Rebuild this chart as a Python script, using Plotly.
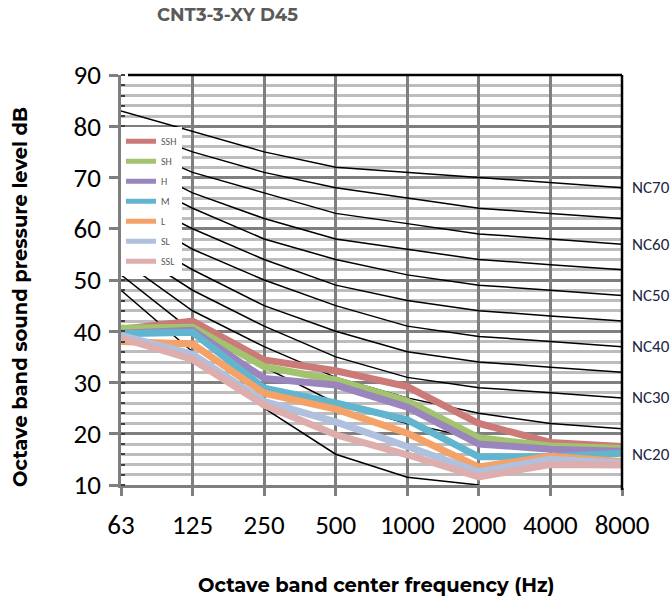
import plotly.graph_objects as go

# ---------------- data ----------------
freq_labels = ["63", "125", "250", "500", "1000", "2000", "4000", "8000"]
x_idx = list(range(len(freq_labels)))

# NC reference curves (dB at each octave band)
nc_names = ["NC70", "NC65", "NC60", "NC55", "NC50", "NC45", "NC40", "NC35", "NC30", "NC25", "NC20", "NC15"]
nc70 = [83, 79, 75, 72, 71, 70, 69, 68]
nc65 = [80, 75, 71, 68, 66, 64, 63, 62]
nc60 = [77, 71, 67, 63, 61, 59, 58, 57]
nc55 = [74, 67, 62, 58, 56, 54, 53, 52]
nc50 = [71, 64, 58, 54, 51, 49, 48, 47]
nc45 = [67, 60, 54, 49, 46, 44, 43, 42]
nc40 = [64, 56, 50, 45, 41, 39, 38, 37]
nc35 = [60, 52, 45, 40, 36, 34, 33, 32]
nc30 = [57, 48, 41, 35, 31, 29, 28, 27]
nc25 = [54, 44, 37, 31, 27, 24, 22, 21]
nc20 = [51, 40, 33, 26, 22, 19, 17, 16]
nc15 = [48, 36, 25, 16, 11.5, 10, None, None]
nc_curves = [nc70, nc65, nc60, nc55, nc50, nc45, nc40, nc35, nc30, nc25, nc20, nc15]
nc_labelled = ["NC70", "NC60", "NC50", "NC40", "NC30", "NC20"]

# measured fan speed series
series_names = ["SSH", "SH", "H", "M", "L", "SL", "SSL"]
ssh = [40.4, 42.0, 34.4, 32.3, 29.2, 22.0, 18.3, 17.5]
sh = [40.6, 40.8, 33.1, 30.5, 26.4, 19.2, 17.6, 17.1]
h = [39.6, 40.2, 30.8, 29.5, 25.2, 18.0, 17.0, 16.6]
m = [39.5, 39.8, 28.9, 26.0, 22.7, 15.5, 15.5, 16.2]
l = [38.0, 37.5, 27.9, 24.8, 20.1, 13.5, 15.6, 14.6]
sl = [39.2, 35.5, 26.3, 22.3, 17.5, 12.6, 15.0, 14.3]
ssl = [38.7, 34.5, 25.6, 19.8, 15.9, 11.6, 14.0, 13.9]
series_values = [ssh, sh, h, m, l, sl, ssl]
series_colors = ["#CC7A78", "#A2C46E", "#9A86BC", "#62B5CE", "#F5A268", "#AFC1DE", "#DDAEAD"]

# ---------------- figure ----------------
fig = go.Figure()

for name, vals in zip(nc_names, nc_curves):
    fig.add_trace(go.Scatter(
        x=x_idx, y=vals, mode="lines", name=name, showlegend=False,
        line=dict(color="black", width=1.5), hoverinfo="skip",
    ))

for name, vals, col in zip(series_names, series_values, series_colors):
    fig.add_trace(go.Scatter(
        x=x_idx, y=vals, mode="lines", name=name, legendgroup=name,
        line=dict(color=col, width=7),
    ))

# NC labels on the right
for name, vals in zip(nc_names, nc_curves):
    if name in nc_labelled:
        fig.add_annotation(
            x=x_idx[-1], y=vals[-1], xref="x", yref="y", text=name,
            showarrow=False, xanchor="left", yanchor="middle", xshift=8,
            font=dict(family="Carlito, Lato, sans-serif", size=17, color="#1B2540"),
        )

tick_font = dict(family="Carlito, Lato, sans-serif", size=27, color="black")
bold_font = "Montserrat, 'Open Sans', sans-serif"

fig.update_layout(
    width=672, height=605,
    margin=dict(l=121, r=50, t=75, b=120),
    paper_bgcolor="white", plot_bgcolor="white",
    showlegend=True,
    legend=dict(
        x=0, y=0.874, xanchor="left", yanchor="top",
        bgcolor="white", borderwidth=0,
        font=dict(family="Carlito, Lato, sans-serif", size=10, color="#595959"),
        itemwidth=30, itemsizing="constant", traceorder="grouped", tracegroupgap=1,
    ),
    xaxis=dict(
        range=[0, 7], tickmode="array", tickvals=x_idx, ticktext=freq_labels,
        showgrid=True, gridcolor="#7F7F7F", gridwidth=2.5,
        showline=True, linecolor="#7F7F7F", linewidth=2.5,
        ticks="outside", ticklen=8, tickcolor="#7F7F7F", tickwidth=2.5,
        tickfont=tick_font, ticklabelstandoff=6, zeroline=False,
    ),
    yaxis=dict(
        range=[10, 90], tickmode="linear", tick0=10, dtick=10,
        showgrid=True, gridcolor="#7F7F7F", gridwidth=2.5,
        showline=True, linecolor="#7F7F7F", linewidth=2.5,
        ticks="outside", ticklen=9, tickcolor="#7F7F7F", tickwidth=2.5,
        tickfont=tick_font, ticklabelstandoff=3, zeroline=False,
        minor=dict(dtick=2, showgrid=True, gridcolor="#BDBDBD", gridwidth=2.5,
                   ticks="inside", ticklen=4, tickcolor="#404040", tickwidth=1.5),
    ),
    annotations=list(fig.layout.annotations) + [
        dict(text="CNT3-3-XY D45", xref="paper", yref="paper", x=0.2126, y=1.146,
             showarrow=False, xanchor="center", yanchor="middle",
             font=dict(family=bold_font, size=18, color="#5A5A5A", weight="bold")),
        dict(text="Octave band sound pressure level dB", xref="paper", yref="paper",
             x=-0.2016, y=0.4585, textangle=-90, showarrow=False,
             xanchor="center", yanchor="middle",
             font=dict(family=bold_font, size=19.5, color="black", weight="bold")),
        dict(text="Octave band center frequency (Hz)", xref="paper", yref="paper",
             x=0.51, y=-0.244, showarrow=False, xanchor="center", yanchor="middle",
             font=dict(family=bold_font, size=19.5, color="black", weight="bold")),
    ],
    shapes=[
        dict(type="line", xref="paper", yref="paper", x0=0.014, x1=1, y0=1, y1=1,
             line=dict(color="black", width=2.5)),
        dict(type="line", xref="paper", yref="paper", x0=1, x1=1, y0=-0.012, y1=1,
             line=dict(color="black", width=2.5)),
    ],
)

fig.write_html("out.html")
